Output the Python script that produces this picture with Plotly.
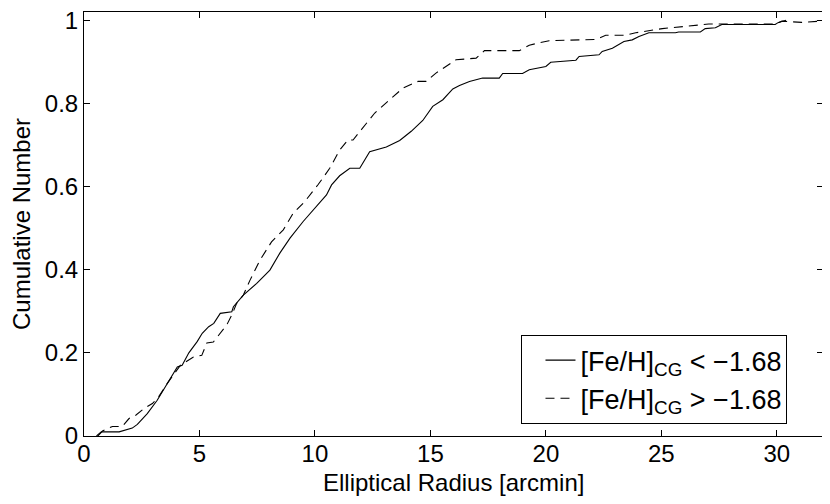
"""Cumulative radial distributions of the metal-poor and metal-rich samples."""

import plotly.graph_objects as go

# solid: [Fe/H]_CG < -1.68
poor_radius = [
    0.54, 0.75, 1.52, 2.09, 2.31, 2.74, 3.17, 3.6, 4.04, 4.25, 4.54, 4.9, 5.12,
    5.4, 5.62, 5.9, 6.4, 6.47, 6.9, 7.48, 8.05, 8.48, 8.92, 9.49, 10.07, 10.5,
    10.72, 11.07, 11.51, 11.94, 12.37, 13.09, 13.67, 14.17, 14.67, 15.1, 15.54,
    15.97, 16.26, 16.69, 17.26, 17.98, 18.13, 18.99, 19.28, 20.0, 20.21, 21.3,
    21.44, 22.3, 22.44, 22.88, 23.38, 23.74, 24.03, 24.46, 25.61, 25.75, 26.69,
    26.9, 27.34, 27.62, 29.93, 30.07, 30.4,
]
poor_cum = [
    0.0, 0.01, 0.01, 0.019, 0.028, 0.054, 0.086, 0.126, 0.166, 0.17, 0.2, 0.227,
    0.247, 0.263, 0.271, 0.295, 0.299, 0.311, 0.339, 0.367, 0.399, 0.44, 0.476,
    0.516, 0.552, 0.58, 0.604, 0.626, 0.644, 0.644, 0.684, 0.695, 0.711, 0.733,
    0.759, 0.793, 0.809, 0.835, 0.843, 0.853, 0.861, 0.861, 0.872, 0.872, 0.881,
    0.889, 0.899, 0.904, 0.913, 0.917, 0.925, 0.933, 0.949, 0.953, 0.961, 0.97,
    0.97, 0.972, 0.972, 0.98, 0.982, 0.99, 0.99, 0.995, 1.0,
]

# dashed: [Fe/H]_CG > -1.68
rich_radius = [
    0.6, 0.8, 1.23, 1.66, 1.95, 2.24, 2.6, 2.96, 3.23, 3.6, 4.17, 4.74, 5.1,
    5.32, 5.6, 5.89, 6.18, 6.4, 6.61, 6.9, 7.19, 7.62, 8.12, 8.63, 9.06, 9.56,
    10.14, 10.64, 11.07, 11.43, 11.65, 12.01, 12.59, 13.16, 13.81, 14.46, 14.82,
    15.24, 15.82, 16.11, 16.98, 17.34, 18.85, 19.28, 19.71, 20.14, 22.16, 22.59,
    23.45, 23.89, 25.04, 26.04, 27.05, 29.93, 30.22, 31.08, 32.5,
]
rich_cum = [
    0.0, 0.012, 0.023, 0.023, 0.042, 0.05, 0.066, 0.078, 0.094, 0.126, 0.17,
    0.19, 0.194, 0.224, 0.226, 0.247, 0.267, 0.291, 0.319, 0.339, 0.375, 0.423,
    0.467, 0.496, 0.536, 0.564, 0.605, 0.644, 0.688, 0.712, 0.712, 0.737, 0.777,
    0.805, 0.837, 0.853, 0.853, 0.873, 0.895, 0.905, 0.909, 0.927, 0.927, 0.94,
    0.946, 0.951, 0.954, 0.964, 0.964, 0.97, 0.98, 0.986, 0.991, 0.991, 0.998,
    0.995, 1.0,
]

x_ticks = [0, 5, 10, 15, 20, 25, 30]
y_ticks = [0, 0.2, 0.4, 0.6, 0.8, 1]
y_tick_text = ["0", "0.2", "0.4", "0.6", "0.8", "1"]

FONT = "Liberation Sans, Arial, Helvetica, sans-serif"

fig = go.Figure()
fig.add_trace(
    go.Scatter(
        x=poor_radius,
        y=poor_cum,
        mode="lines",
        name="[Fe/H]<sub>CG</sub> < −1.68",
        line=dict(color="black", width=1.1),
    )
)
fig.add_trace(
    go.Scatter(
        x=rich_radius,
        y=rich_cum,
        mode="lines",
        name="[Fe/H]<sub>CG</sub> > −1.68",
        line=dict(color="black", width=1.1, dash="9px,6px"),
    )
)

axis_common = dict(
    showline=True,
    linecolor="black",
    linewidth=1,
    mirror="ticks",
    ticks="inside",
    ticklen=6,
    tickcolor="black",
    showgrid=False,
    zeroline=False,
    automargin=False,
    ticklabeloverflow="allow",
    tickfont=dict(family=FONT, size=24, color="black"),
)

# the page body adds an 8px offset, so the margins are shifted to compensate
fig.update_layout(
    width=830,
    height=504,
    margin=dict(l=76, r=15, t=4, b=76),
    paper_bgcolor="white",
    plot_bgcolor="white",
    font=dict(family=FONT, color="black"),
    xaxis=dict(range=[0, 32], tickvals=x_ticks, ticklabelstandoff=-4, **axis_common),
    yaxis=dict(
        range=[0, 1.02],
        tickvals=y_ticks,
        ticktext=y_tick_text,
        title=dict(text="Cumulative Number", font=dict(size=24), standoff=12),
        **axis_common,
    ),
    legend=dict(
        x=0.592,
        y=0.238,
        xanchor="left",
        yanchor="top",
        bordercolor="black",
        borderwidth=1,
        bgcolor="white",
        indentation=18,
        entrywidth=262,
        font=dict(family=FONT, size=27, color="black"),
        tracegroupgap=0,
    ),
    showlegend=True,
)
fig.add_annotation(
    text="Elliptical Radius [arcmin]",
    xref="paper",
    yref="paper",
    x=0.5,
    y=-0.073,
    xanchor="center",
    yanchor="top",
    showarrow=False,
    font=dict(family=FONT, size=24, color="black"),
)

fig.write_html("out.html")
